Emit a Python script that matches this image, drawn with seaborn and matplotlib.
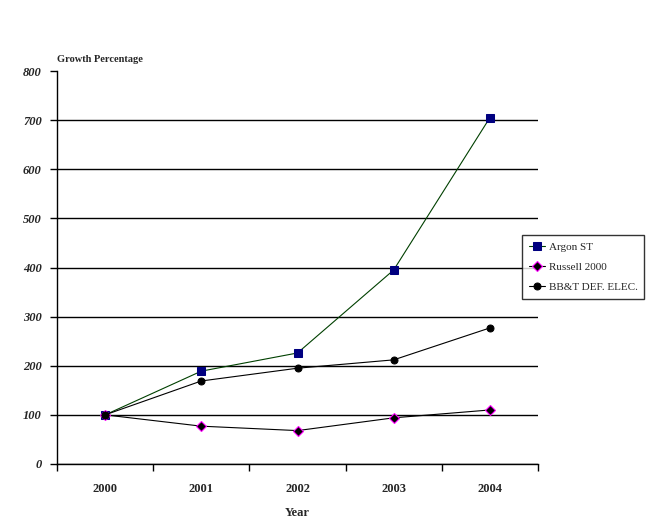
import matplotlib
matplotlib.use("Agg")
import matplotlib.pyplot as plt
import seaborn as sns
import pandas as pd
import numpy as np
from matplotlib.ticker import FixedLocator, NullFormatter

years = ["2000", "2001", "2002", "2003", "2004"]
argon = [100, 189, 226, 395, 705]
russell = [100, 77, 68, 94, 110]
bbt = [100, 169, 195, 212, 277]
series_names = ["Argon ST", "Russell 2000", "BB&T DEF. ELEC."]
yticks = [0, 100, 200, 300, 400, 500, 600, 700, 800]

sns.set_style("white")
plt.rcParams["font.family"] = ["Liberation Serif", "DejaVu Serif"]

fig = plt.figure(figsize=(6.49, 5.30), dpi=100)
ax = fig.add_axes([57/649, 66/530, 481/649, 393/530])

xpos = np.arange(len(years))
df = pd.DataFrame({"x": np.tile(xpos, 3),
                   "value": argon + russell + bbt,
                   "series": np.repeat(series_names, len(years))})

styles = {
    "Argon ST": dict(color="#004000", marker="s", markerfacecolor="#000080", markeredgecolor="#000080", markersize=5.5),
    "Russell 2000": dict(color="black", marker="D", markerfacecolor="black", markeredgecolor="#FF00FF", markersize=5, markeredgewidth=0.8),
    "BB&T DEF. ELEC.": dict(color="black", marker="o", markerfacecolor="black", markeredgecolor="black", markersize=5),
}
for name in series_names:
    sub = df[df["series"] == name]
    sns.lineplot(data=sub, x="x", y="value", ax=ax, label=name, linewidth=0.8, **styles[name])

ax.set_xlim(-0.5, len(years) - 0.5)
ax.set_ylim(0, 800)
ax.grid(axis="y", color="black", linewidth=1)
ax.set_axisbelow(True)
for s in ["top", "right"]:
    ax.spines[s].set_visible(False)
for s in ["left", "bottom"]:
    ax.spines[s].set_color("black")
    ax.spines[s].set_linewidth(1)

ax.set_xticks(xpos)
ax.set_xticklabels(years, fontsize=9, fontweight="bold")
ax.tick_params(axis="x", which="major", length=0, pad=14)
ax.xaxis.set_minor_locator(FixedLocator(np.arange(-0.5, len(years), 1.0)))
ax.xaxis.set_minor_formatter(NullFormatter())
ax.tick_params(axis="x", which="minor", length=5, width=1, color="black", direction="out", bottom=True)
ax.tick_params(axis="y", length=5, width=1, color="black", direction="out", pad=6, left=True)
ax.set_yticks(yticks)
ax.yaxis.get_major_ticks()[-1].gridline.set_visible(False)
for lab in ax.get_yticklabels():
    lab.set_fontsize(9)
    lab.set_fontweight("bold")
    lab.set_fontstyle("italic")

ax.set_xlabel("Year", fontsize=9, fontweight="bold", labelpad=8)
ax.set_ylabel("")
fig.text(57/649, 1 - 60/530, "Growth Percentage", fontsize=7.5, fontweight="bold", ha="left", va="center")

leg = ax.legend(loc="center left", bbox_to_anchor=(522/649, 1 - 267/530), bbox_transform=fig.transFigure,
                frameon=True, fancybox=False, shadow=False, fontsize=8, handlelength=1.5,
                borderpad=0.6, labelspacing=0.95, handletextpad=0.3, borderaxespad=0)
leg.get_frame().set_edgecolor("black")
leg.get_frame().set_linewidth(1)

fig.savefig("out.png", dpi=100)
